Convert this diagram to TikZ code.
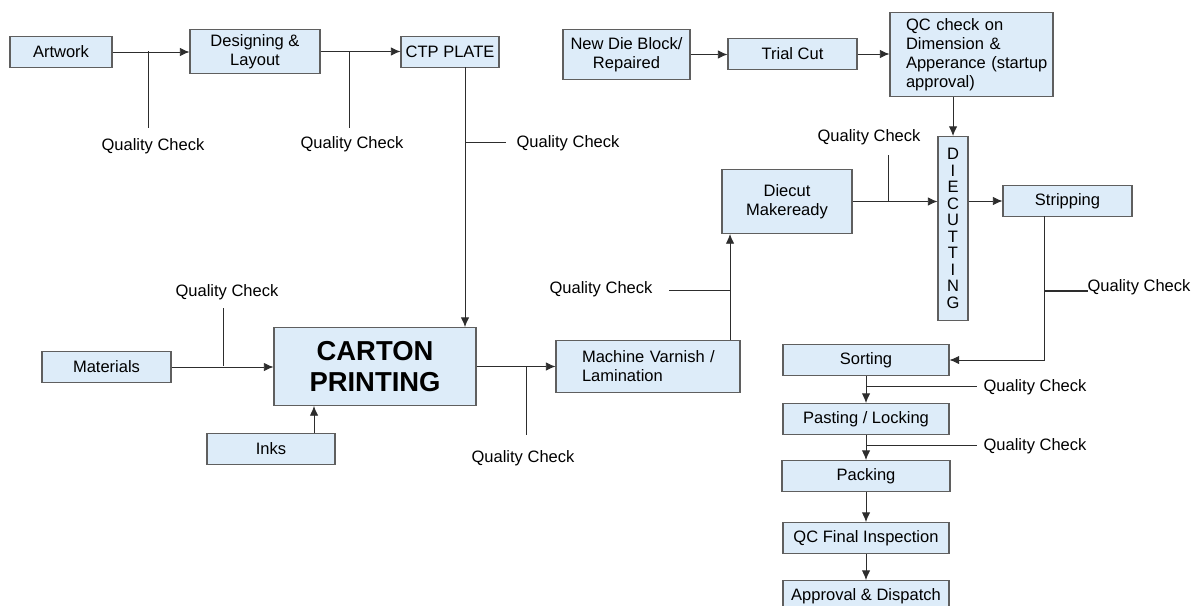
\documentclass[tikz,border=0pt]{standalone}
\usepackage{fontspec}
\setmainfont{Liberation Sans}
\usetikzlibrary{arrows.meta}

\definecolor{boxfill}{RGB}{221,236,249}
\definecolor{boxline}{RGB}{95,95,95}
\definecolor{wire}{RGB}{45,45,45}

\tikzset{
    box/.style={draw=boxline, fill=boxfill, line width=0.6pt, inner sep=0pt, align=center,
        font=\fontsize{9.4}{10.8}\selectfont},
    qlabel/.style={inner sep=0pt, font=\fontsize{9.4}{10.8}\selectfont},
    wireline/.style={draw=wire, line width=0.5pt},
    arr/.style={wireline, -{Latex[length=5.5pt,width=4.8pt]}}
}

\begin{document}
\begin{tikzpicture}[x=0.02cm, y=-0.02cm]
        \def \u {0.02cm}
        \useasboundingbox (0,0) rectangle (1196,605);

        % pre-press row
        \node[box, minimum width=102*\u, minimum height=31*\u] (art) at (61,52) {Artwork};
        \node[box, minimum width=130*\u, minimum height=44*\u] (design) at (255,51.5) {Designing \&\\Layout};
        \node[box, minimum width=98*\u, minimum height=31*\u] (ctp) at (450,52) {CTP PLATE};

        % die row
        \node[box, minimum width=127*\u, minimum height=50*\u] (newdie) at (626.5,54.5) {New Die Block/\\Repaired};
        \node[box, minimum width=129*\u, minimum height=31*\u] (trial) at (792.5,54) {Trial Cut};
        \node[box, minimum width=163*\u, minimum height=84*\u, text width=131*\u, align=left] (qcdim) at (971.5,54.5)
            {\mbox{QC check on}\\\mbox{Dimension \&}\\\mbox{Apperance (startup}\\\mbox{approval)}};
        \node[box, minimum width=30*\u, minimum height=184*\u, font=\fontsize{9.4}{9.4}\selectfont] (diecut) at (953,228.5)
            {D\\I\\E\\C\\U\\T\\T\\I\\N\\G};
        \node[box, minimum width=130*\u, minimum height=64*\u] (makeready) at (787,201.5) {Diecut\\Makeready};
        \node[box, minimum width=129*\u, minimum height=31*\u] (strip) at (1067.5,201) {Stripping};

        % printing
        \node[box, minimum width=129*\u, minimum height=31*\u] (mat) at (106.5,367) {Materials};
        \node[box, minimum width=202*\u, minimum height=78*\u, font=\fontsize{15.6}{18}\selectfont\bfseries] (carton) at (375,366.5)
            {CARTON\\PRINTING};
        \node[box, minimum width=128*\u, minimum height=31*\u] (inks) at (271,449) {Inks};
        \node[box, minimum width=184*\u, minimum height=52*\u, text width=132*\u, align=left] (varnish) at (648,366.5)
            {\mbox{Machine Varnish /}\\\mbox{Lamination}};

        % finishing column
        \node[box, minimum width=166*\u, minimum height=31*\u] (sort) at (866,360) {Sorting};
        \node[box, minimum width=166*\u, minimum height=31*\u] (paste) at (866,419) {Pasting / Locking};
        \node[box, minimum width=168*\u, minimum height=31*\u] (pack) at (866,476) {Packing};
        \node[box, minimum width=166*\u, minimum height=31*\u] (qcfinal) at (866,538) {QC Final Inspection};
        \node[box, minimum width=166*\u, minimum height=31*\u] (dispatch) at (866,596) {Approval \& Dispatch};

        % quality check labels
        \node[qlabel] (qa) at (153,146) {Quality Check};
        \node[qlabel] (qb) at (352,144) {Quality Check};
        \node[qlabel] (qc) at (568,143) {Quality Check};
        \node[qlabel] (qd) at (227,292) {Quality Check};
        \node[qlabel] (qe) at (601,289) {Quality Check};
        \node[qlabel] (qf) at (523,458) {Quality Check};
        \node[qlabel] (qg) at (869,137) {Quality Check};
        \node[qlabel] (qh) at (1139,287) {Quality Check};
        \node[qlabel] (qi) at (1035,387) {Quality Check};
        \node[qlabel] (qj) at (1035,446) {Quality Check};

        % branch points
        \coordinate (ja) at (148,51);   \coordinate (ea) at (148,128);
        \coordinate (jb) at (349,51);   \coordinate (eb) at (349,128);
        \coordinate (jc) at (465,142);  \coordinate (ec) at (506,142);
        \coordinate (jd) at (223,366);  \coordinate (ed) at (223,308);
        \coordinate (je) at (730,290);  \coordinate (ee) at (669,290);
        \coordinate (jf) at (526,366);  \coordinate (ef) at (526,435);
        \coordinate (jg) at (888,201);  \coordinate (eg) at (888,155);
        \coordinate (jh) at (1044,291); \coordinate (eh) at (1088,291);
        \coordinate (ji) at (866,386);  \coordinate (ei) at (977,386);
        \coordinate (jj) at (866,445);  \coordinate (ej) at (977,445);
        \coordinate (ctpout) at (465,67);
        \coordinate (inkout) at (314,433);
        \coordinate (varout) at (730,340);
        \coordinate (stripout) at (1044,216);

        % main flow
        \draw[arr] (art.east) -- (design.west |- art.east);
        \draw[arr] (design.east) -- (ctp.west |- design.east);
        \draw[arr] (ctpout) -- (ctpout |- carton.north);
        \draw[arr] (mat.east) -- (carton.west |- mat.east);
        \draw[arr] (inkout) -- (inkout |- carton.south);
        \draw[arr] (carton.east) -- (varnish.west |- carton.east);
        \draw[arr] (varout) -- (varout |- makeready.south);
        \draw[arr] (newdie.east) -- (trial.west |- newdie.east);
        \draw[arr] (trial.east) -- (qcdim.west |- trial.east);
        \draw[arr] (qcdim.south -| diecut.north) -- (diecut.north);
        \draw[arr] (makeready.east) -- (diecut.west |- makeready.east);
        \draw[arr] (diecut.east |- strip.west) -- (strip.west);
        \draw[arr] (stripout) |- (sort.east);
        \draw[arr] (sort.south) -- (paste.north);
        \draw[arr] (paste.south) -- (pack.north);
        \draw[arr] (pack.south) -- (qcfinal.north);
        \draw[arr] (qcfinal.south) -- (dispatch.north);

        % quality check branches
        \draw[wireline] (ja) -- (ea);
        \draw[wireline] (jb) -- (eb);
        \draw[wireline] (jc) -- (ec);
        \draw[wireline] (jd) -- (ed);
        \draw[wireline] (je) -- (ee);
        \draw[wireline] (jf) -- (ef);
        \draw[wireline] (jg) -- (eg);
        \draw[wireline, line width=0.8pt] (jh) -- (eh);
        \draw[wireline] (ji) -- (ei);
        \draw[wireline] (jj) -- (ej);
    \end{tikzpicture}
\end{document}
